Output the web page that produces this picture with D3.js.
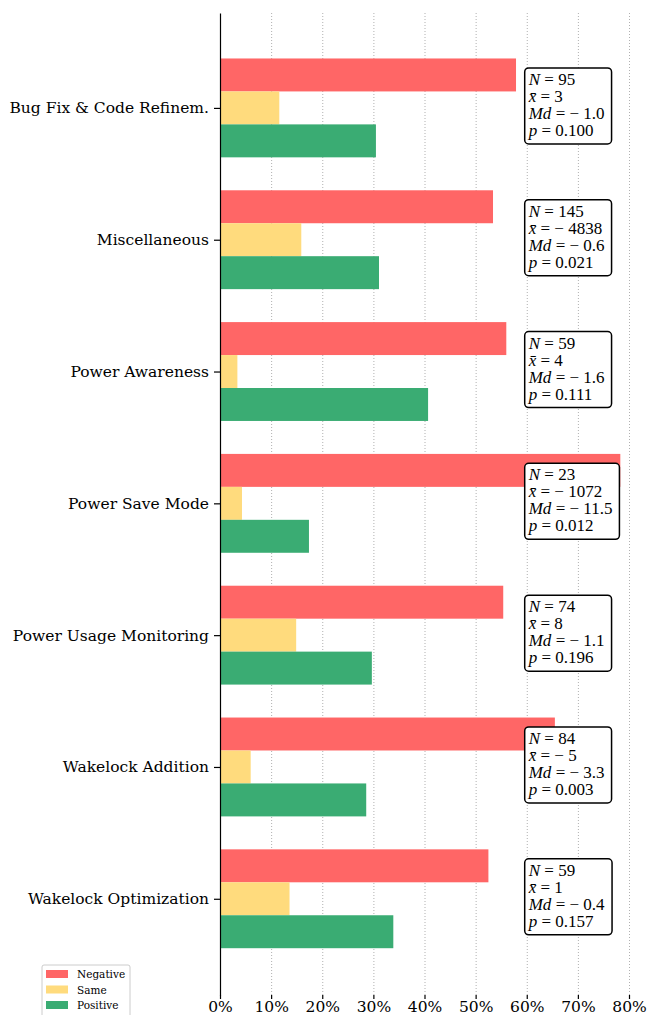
<!DOCTYPE html>
<meta charset="utf-8">
<script src="https://d3js.org/d3.v7.min.js"></script>
<style>
  body { margin: 0; background: #fff; }
</style>
<div id="my_dataviz"></div>
<script>
// categories, top to bottom
const categories = ["Bug Fix & Code Refinem.", "Miscellaneous", "Power Awareness",
  "Power Save Mode", "Power Usage Monitoring", "Wakelock Addition", "Wakelock Optimization"];
const seriesNames = ["Negative", "Same", "Positive"];
// share of apps in each series (%)
const negative = [57.9, 53.4, 56.0, 78.3, 55.4, 65.5, 52.5];
const same     = [11.6, 15.9, 3.4, 4.3, 14.9, 6.0, 13.6];
const positive = [30.5, 31.1, 40.7, 17.4, 29.7, 28.6, 33.9];
// annotation values
const nVals  = ["95", "145", "59", "23", "74", "84", "59"];
const meanVals = ["3", "\u2212 4838", "4", "\u2212 1072", "8", "\u2212 5", "1"];
const mdVals = ["\u2212 1.0", "\u2212 0.6", "\u2212 1.6", "\u2212 11.5", "\u2212 1.1", "\u2212 3.3", "\u2212 0.4"];
const pVals  = ["0.100", "0.021", "0.111", "0.012", "0.196", "0.003", "0.157"];
const xTicks = [0, 10, 20, 30, 40, 50, 60, 70, 80];

const colors = ["#ff6666", "#ffdb7d", "#3aac73"];
const W = 648, H = 1015;
const labelFont = "'DejaVu Serif', serif";
const mathFont = "'Liberation Serif', serif";

const svg = d3.select("#my_dataviz").append("svg")
  .attr("width", W).attr("height", H);

const x = d3.scaleLinear().domain([0, 80]).range([220, 629]);
const y = d3.scaleLinear().domain([-0.72, 6.73]).range([13, 995]);
const barH = y(0.25) - y(0);

// grid
svg.append("g").selectAll("line").data(xTicks.slice(1)).join("line")
  .attr("x1", d => x(d) + 0.5).attr("x2", d => x(d) + 0.5)
  .attr("y1", 13).attr("y2", 995)
  .attr("stroke", "#b0b0b0").attr("stroke-width", 1)
  .attr("stroke-dasharray", "1,2");

// bars
const series = [negative, same, positive];
series.forEach((vals, s) => {
  svg.append("g").selectAll("rect").data(vals).join("rect")
    .attr("x", x(0))
    .attr("y", (d, i) => y(i + (s - 1) * 0.25 - 0.125))
    .attr("width", d => x(d) - x(0))
    .attr("height", barH)
    .attr("fill", colors[s]);
});

// x axis
const xAxis = svg.append("g").attr("transform", "translate(0,995)")
  .call(d3.axisBottom(x).tickValues(xTicks).tickFormat(d => d + "%").tickSize(4).tickPadding(2));
xAxis.select(".domain").remove();
xAxis.selectAll("text").style("font-size", "15.5px").style("font-family", labelFont).attr("fill", "#000");
xAxis.selectAll("line").attr("stroke", "#000").attr("stroke-width", 1.2);

// y axis
const yAxis = svg.append("g").attr("transform", "translate(220,0)")
  .call(d3.axisLeft(y).tickValues(d3.range(categories.length)).tickFormat(i => categories[i])
    .tickSize(6).tickPadding(5).tickSizeOuter(0));
yAxis.select(".domain").attr("stroke", "#000").attr("stroke-width", 1.2);
yAxis.selectAll("text").style("font-size", "15.5px").style("font-family", labelFont).attr("fill", "#000");
yAxis.selectAll("line").attr("stroke", "#000").attr("stroke-width", 1.2);

// annotation boxes
categories.forEach((c, i) => {
  const cy = y(i);
  const g = svg.append("g");
  const bx = x(59.6);
  const lines = [
    [["N", true], [" = " + nVals[i], false]],
    [["x\u0304", true], [" = " + meanVals[i], false]],
    [["Md", true], [" = " + mdVals[i], false]],
    [["p", true], [" = " + pVals[i], false]]
  ];
  const box = g.append("rect");
  const t = g.append("text").style("font-family", mathFont).style("font-size", "17px");
  lines.forEach((ln, k) => {
    const tl = t.append("tspan").attr("x", bx + 4).attr("y", cy - 23 + k * 17);
    ln.forEach(([s, it]) => tl.append("tspan").style("font-style", it ? "italic" : "normal").text(s));
  });
  const bb = t.node().getBBox();
  box.attr("x", bx).attr("y", cy - 40)
    .attr("width", bb.width + 10).attr("height", 76)
    .attr("rx", 4).attr("fill", "#fff").attr("stroke", "#000").attr("stroke-width", 1.5);
});

// legend
const leg = svg.append("g");
leg.append("rect").attr("x", 42).attr("y", 965).attr("width", 88).attr("height", 56)
  .attr("rx", 2).attr("fill", "#fff").attr("stroke", "#cccccc").attr("stroke-width", 1);
seriesNames.forEach((n, k) => {
  leg.append("rect").attr("x", 46).attr("y", 970 + k * 15.5).attr("width", 22).attr("height", 8)
    .attr("fill", colors[k]);
  leg.append("text").attr("x", 77).attr("y", 978 + k * 15.5)
    .style("font-family", labelFont).style("font-size", "10.5px").text(n);
});
</script>
